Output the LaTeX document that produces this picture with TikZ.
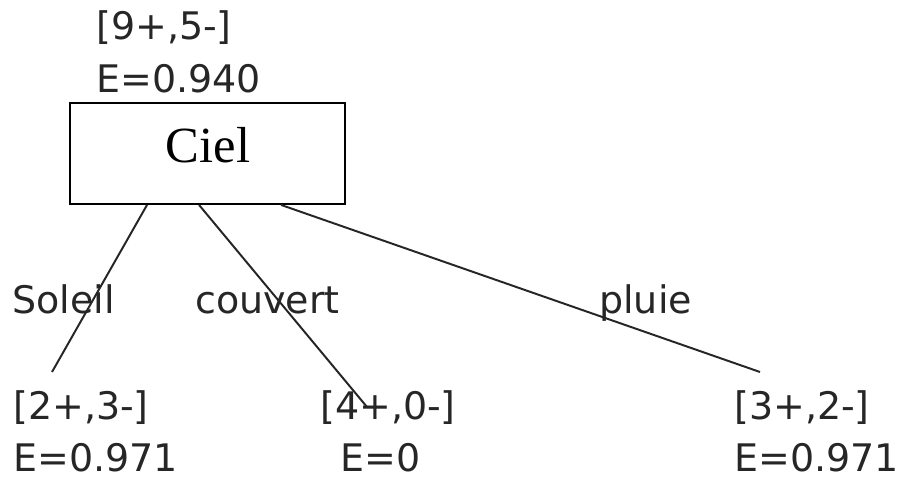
\documentclass[tikz,border=0pt]{standalone}
\usepackage{fontspec}
\setmainfont{DejaVu Sans}
\newfontfamily\cielfont{Liberation Serif}
\usetikzlibrary{positioning}

\begin{document}
\begin{tikzpicture}[
  x=0.025cm,y=-0.025cm,
  font=\fontsize{27}{32}\selectfont,
  stat/.style={anchor=base west,inner sep=0pt,text=black!85},
  attr/.style={draw,line width=1.3pt,minimum width=6.875cm,minimum height=2.525cm,inner sep=0pt,font=\cielfont\fontsize{36}{42}\selectfont},
  branch/.style={anchor=base west,inner sep=0pt,text=black!85},
  link/.style={line width=1.4pt,black!85}
]
\useasboundingbox (0,0) rectangle (904,480);

% root
\node[stat] (rootc) at (96,39) {[9+,5-]};
\node[stat] (roote) at (96,92) {E=0.940};
\node[attr] (ciel) at (207.5,153.5) {};
\node[font=\cielfont\fontsize{36}{42}\selectfont,anchor=base,inner sep=0pt] (cieltext) at (208,162) {Ciel};

% leaves
\node[stat] (solc) at (13,419) {[2+,3-]};
\node[stat] (sole) at (13,471) {E=0.971};
\node[stat] (couc) at (320,419) {[4+,0-]};
\node[stat] (coue) at (340,471) {E=0};
\node[stat] (pluc) at (734,419) {[3+,2-]};
\node[stat] (plue) at (734,471) {E=0.971};

% branch ends
\coordinate (solend) at (52,372);
\coordinate (couend) at (367,407);
\coordinate (pluend) at (760,372);

\draw[link] ([xshift=78*0.025cm]ciel.south west) -- (solend);
\draw[link] ([xshift=130*0.025cm]ciel.south west) -- (couend);
\draw[link] ([xshift=212*0.025cm]ciel.south west) -- (pluend);

\node[branch] (soleil) at (12,313) {Soleil};
\node[branch] (couvert) at (195,313) {couvert};
\node[branch] (pluie) at (599,313) {pluie};
\end{tikzpicture}
\end{document}
